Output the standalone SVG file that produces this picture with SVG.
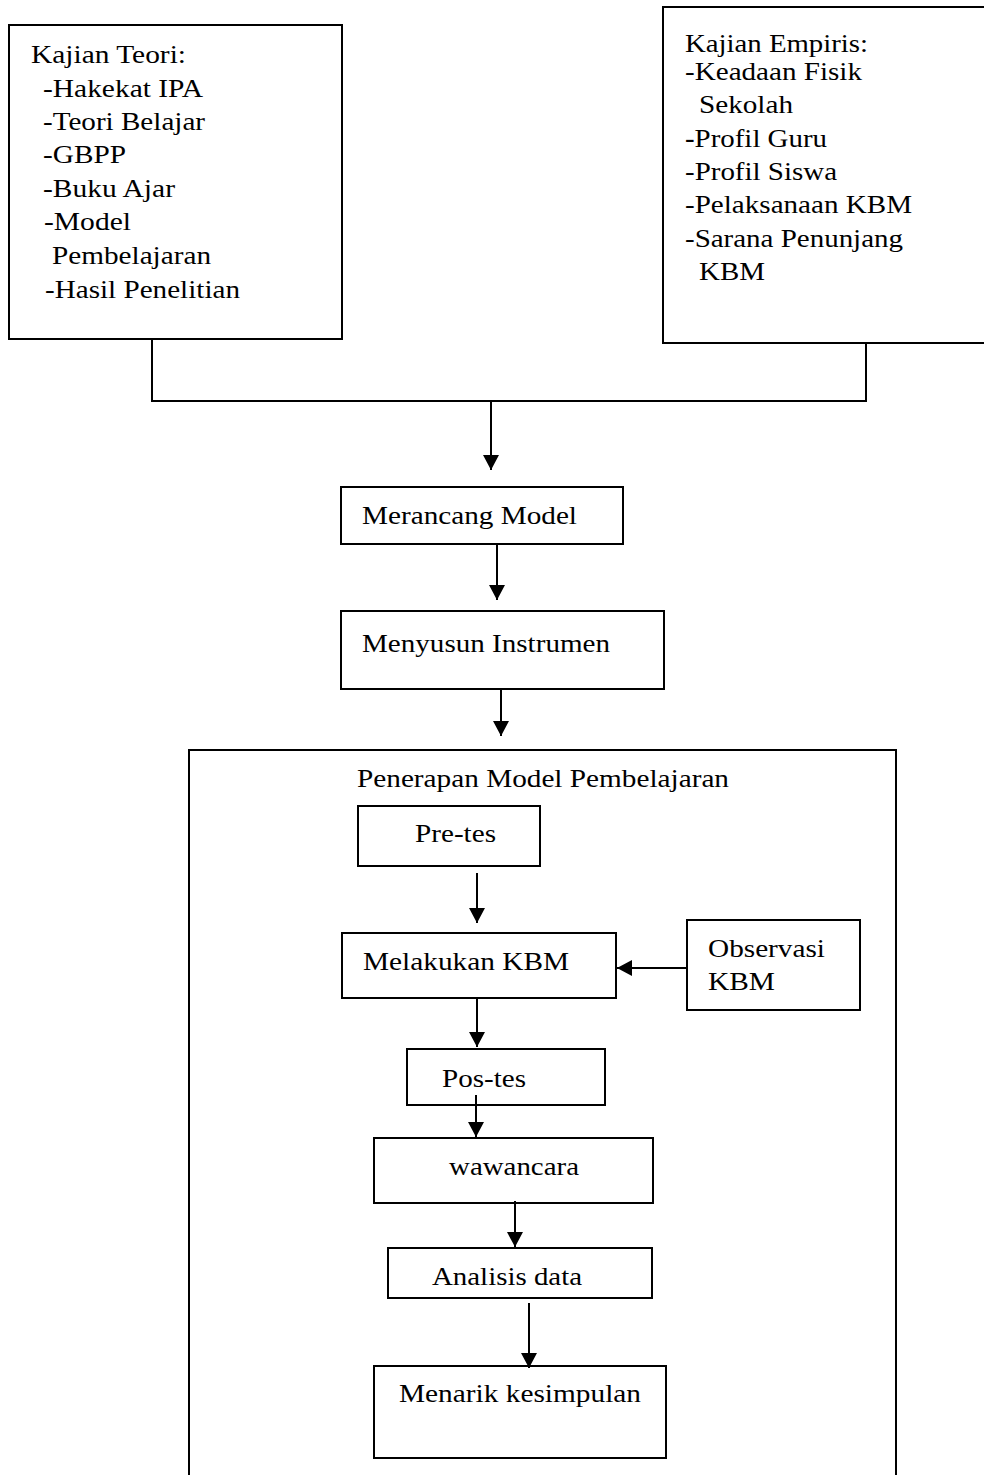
<svg xmlns="http://www.w3.org/2000/svg" width="984" height="1475" viewBox="0 0 984 1475">
<style>
.box{fill:#fff;stroke:#000;stroke-width:2}
text{font-family:"Liberation Serif","Times New Roman",serif;font-size:25px;fill:#000}
.ln{fill:none;stroke:#000;stroke-width:2}
</style>
<defs>
<marker id="ah" markerUnits="userSpaceOnUse" markerWidth="16" markerHeight="16" refX="15" refY="8" orient="auto">
<path d="M0,0 L15,8 L0,16 Z" fill="#000"/>
</marker>
</defs>
<rect width="984" height="1475" fill="#fff"/>
<g id="kajian-teori">
<rect class="box" x="9" y="25" width="333" height="314"/>
<text x="31" y="63" textLength="155" lengthAdjust="spacingAndGlyphs">Kajian Teori:</text>
<text x="43" y="97" textLength="160" lengthAdjust="spacingAndGlyphs">-Hakekat IPA</text>
<text x="43" y="130" textLength="162" lengthAdjust="spacingAndGlyphs">-Teori Belajar</text>
<text x="43" y="163" textLength="83" lengthAdjust="spacingAndGlyphs">-GBPP</text>
<text x="43" y="197" textLength="132" lengthAdjust="spacingAndGlyphs">-Buku Ajar</text>
<text x="44" y="230" textLength="87" lengthAdjust="spacingAndGlyphs">-Model</text>
<text x="52" y="264" textLength="159" lengthAdjust="spacingAndGlyphs">Pembelajaran</text>
<text x="45" y="298" textLength="195" lengthAdjust="spacingAndGlyphs">-Hasil Penelitian</text>
</g>
<g id="kajian-empiris">
<rect class="box" x="663" y="7" width="330" height="336"/>
<text x="685" y="52" textLength="183" lengthAdjust="spacingAndGlyphs">Kajian Empiris:</text>
<text x="685" y="80" textLength="177" lengthAdjust="spacingAndGlyphs">-Keadaan Fisik</text>
<text x="699" y="113" textLength="94" lengthAdjust="spacingAndGlyphs">Sekolah</text>
<text x="685" y="147" textLength="142" lengthAdjust="spacingAndGlyphs"><tspan font-weight="bold">-</tspan>Profil Guru</text>
<text x="685" y="180" textLength="152" lengthAdjust="spacingAndGlyphs">-Profil Siswa</text>
<text x="685" y="213" textLength="227" lengthAdjust="spacingAndGlyphs">-Pelaksanaan KBM</text>
<text x="685" y="247" textLength="218" lengthAdjust="spacingAndGlyphs">-Sarana Penunjang</text>
<text x="699" y="280" textLength="66" lengthAdjust="spacingAndGlyphs">KBM</text>
</g>
<g id="merancang-model">
<rect class="box" x="341" y="487" width="282" height="57"/>
<text x="362" y="524" textLength="215" lengthAdjust="spacingAndGlyphs">Merancang Model</text>
</g>
<g id="menyusun-instrumen">
<rect class="box" x="341" y="611" width="323" height="78"/>
<text x="362" y="652" textLength="248" lengthAdjust="spacingAndGlyphs">Menyusun Instrumen</text>
</g>
<g id="penerapan">
<rect class="box" x="189" y="750" width="707" height="740"/>
<text x="357" y="787" textLength="372" lengthAdjust="spacingAndGlyphs">Penerapan Model Pembelajaran</text>
</g>
<g id="pre-tes">
<rect class="box" x="358" y="806" width="182" height="60"/>
<text x="415" y="842" textLength="81" lengthAdjust="spacingAndGlyphs">Pre-tes</text>
</g>
<g id="melakukan-kbm">
<rect class="box" x="342" y="933" width="274" height="65"/>
<text x="363" y="970" textLength="206" lengthAdjust="spacingAndGlyphs">Melakukan KBM</text>
</g>
<g id="observasi-kbm">
<rect class="box" x="687" y="920" width="173" height="90"/>
<text x="708" y="957" textLength="117" lengthAdjust="spacingAndGlyphs">Observasi</text>
<text x="708" y="990" textLength="67" lengthAdjust="spacingAndGlyphs">KBM</text>
</g>
<g id="pos-tes">
<rect class="box" x="407" y="1049" width="198" height="56"/>
<text x="442" y="1087" textLength="84" lengthAdjust="spacingAndGlyphs">Pos-tes</text>
</g>
<g id="wawancara">
<rect class="box" x="374" y="1138" width="279" height="65"/>
<text x="449" y="1175" textLength="130" lengthAdjust="spacingAndGlyphs">wawancara</text>
</g>
<g id="analisis-data">
<rect class="box" x="388" y="1248" width="264" height="50"/>
<text x="432" y="1285" textLength="150" lengthAdjust="spacingAndGlyphs">Analisis data</text>
</g>
<g id="menarik-kesimpulan">
<rect class="box" x="374" y="1366" width="292" height="92"/>
<text x="399" y="1402" textLength="242" lengthAdjust="spacingAndGlyphs">Menarik kesimpulan</text>
</g>
<g id="connectors">
<polyline class="ln" points="152,339 152,401 866,401 866,343"/>
<line class="ln" x1="491" y1="401" x2="491" y2="470" marker-end="url(#ah)"/>
<line class="ln" x1="497" y1="544" x2="497" y2="600" marker-end="url(#ah)"/>
<line class="ln" x1="501" y1="689" x2="501" y2="736" marker-end="url(#ah)"/>
<line class="ln" x1="477" y1="873" x2="477" y2="923" marker-end="url(#ah)"/>
<line class="ln" x1="687" y1="968" x2="617" y2="968" marker-end="url(#ah)"/>
<line class="ln" x1="477" y1="998" x2="477" y2="1047" marker-end="url(#ah)"/>
<line class="ln" x1="476" y1="1095" x2="476" y2="1137" marker-end="url(#ah)"/>
<line class="ln" x1="515" y1="1201" x2="515" y2="1247" marker-end="url(#ah)"/>
<line class="ln" x1="529" y1="1303" x2="529" y2="1368" marker-end="url(#ah)"/>
</g>
</svg>
